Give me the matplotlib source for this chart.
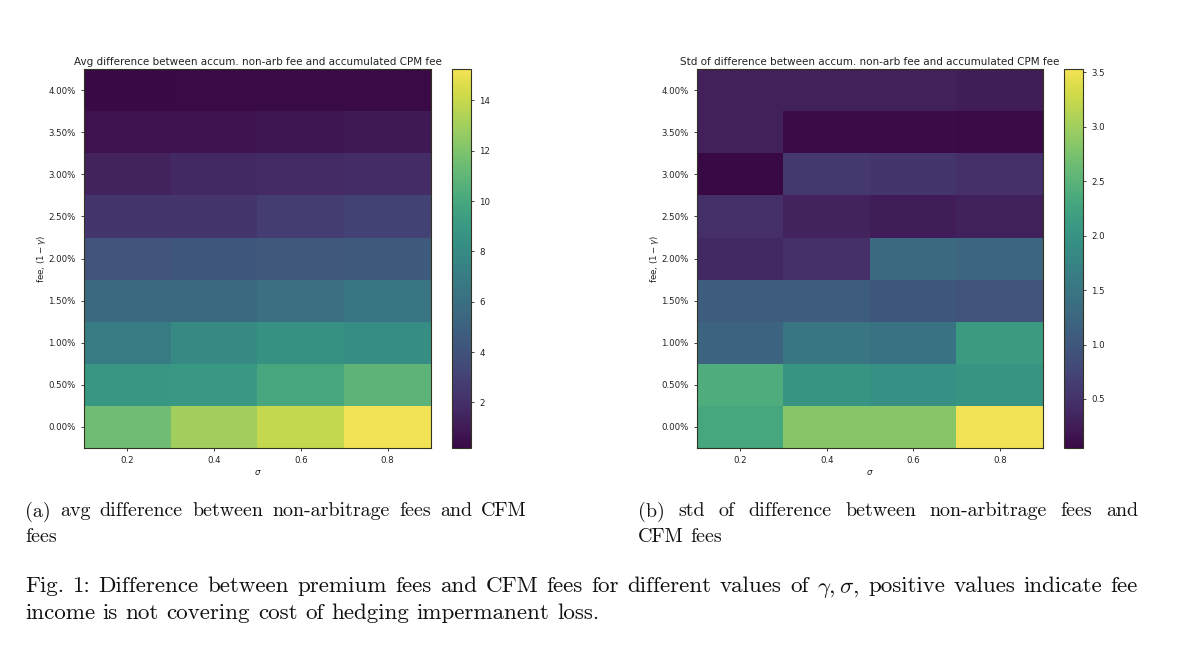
import numpy as np
import matplotlib
matplotlib.use("Agg")
import matplotlib.pyplot as plt
from matplotlib.colors import ListedColormap

sigmas = [0.2, 0.4, 0.6, 0.8]
fees = [0.0, 0.005, 0.01, 0.015, 0.02, 0.025, 0.03, 0.035, 0.04]

# rows = fees (0% .. 4%), columns = sigma
avg_diff = [
    [11.5, 13.0, 13.9, 15.25],
    [8.9, 9.0, 10.0, 10.9],
    [7.0, 8.0, 8.5, 8.2],
    [5.6, 5.6, 6.1, 6.4],
    [4.0, 4.3, 4.4, 4.6],
    [2.4, 2.4, 2.75, 3.05],
    [1.4, 1.7, 1.75, 1.85],
    [0.65, 0.7, 0.8, 0.95],
    [0.19, 0.25, 0.3, 0.3],
]
std_diff = [
    [2.3, 2.83, 2.83, 3.53],
    [2.4, 2.03, 1.96, 2.03],
    [1.2, 1.51, 1.44, 2.14],
    [1.09, 1.1, 1.0, 0.92],
    [0.4, 0.47, 1.3, 1.23],
    [0.47, 0.33, 0.26, 0.3],
    [0.05, 0.57, 0.54, 0.47],
    [0.29, 0.08, 0.08, 0.07],
    [0.29, 0.29, 0.29, 0.26],
]

titles = ["Avg difference between accum. non-arb fee and accumulated CPM fee",
          "Std of difference between accum. non-arb fee and accumulated CPM fee"]

# viridis, a bit washed out like the scanned figure
base = plt.get_cmap("viridis")(np.linspace(0, 1, 256))[:, :3]
grey = (base @ np.array([0.299, 0.587, 0.114]))[:, None]
cmap = ListedColormap(base + 0.28 * (grey - base))

W, H = 1200, 649
fig = plt.figure(figsize=(W / 100, H / 100), dpi=100)


def px(x0, y0, x1, y1):
    return [x0 / W, 1 - y1 / H, (x1 - x0) / W, (y1 - y0) / H]


boxes = [(px(84, 69, 431, 448), px(452, 69, 471, 448)),
         (px(697, 69, 1043, 448), px(1064, 69, 1083, 448))]

ds = 0.1
df = 0.0025
for data, title, (abox, cbox) in zip([avg_diff, std_diff], titles, boxes):
    ax = fig.add_axes(abox)
    cax = fig.add_axes(cbox)
    im = ax.imshow(np.array(data), cmap=cmap, origin="lower", aspect="auto",
                   extent=[sigmas[0] - ds, sigmas[-1] + ds, fees[0] - df, fees[-1] + df])
    ax.set_xticks(sigmas)
    ax.set_xticklabels([f"{s:.1f}" for s in sigmas])
    ax.set_yticks(fees)
    ax.set_yticklabels([f"{f:.2%}" for f in fees])
    ax.tick_params(labelsize=6.2, length=2.5, width=0.6, colors="#222222")
    ax.set_title(title, fontsize=7.5, pad=3, color="#222222")
    ax.set_xlabel(r"$\sigma$", fontsize=6.2, labelpad=2, color="#222222")
    ax.set_ylabel(r"fee, $(1-\gamma)$", fontsize=6.2, labelpad=0, color="#222222")
    cb = fig.colorbar(im, cax=cax)
    cb.ax.tick_params(labelsize=6.2, length=2.5, width=0.6, colors="#222222")
    for sp in list(ax.spines.values()) + list(cax.spines.values()):
        sp.set_linewidth(0.8)
        sp.set_color("#333322")

renderer = fig.canvas.get_renderer()


def put_line(text, x0, x1, y, size, justify=True):
    words = text.split(" ")
    objs = [fig.text(0, 1 - y / H, w, fontsize=size, family="cmr10",
                     math_fontfamily="cm", va="baseline", ha="left", color="#111111")
            for w in words]
    widths = [o.get_window_extent(renderer).width for o in objs]
    gap = size * 100 / 72 * 0.333
    if justify and len(words) > 1:
        gap = max(gap * 0.8, (x1 - x0 - sum(widths)) / (len(words) - 1))
    x = x0
    for o, w in zip(objs, widths):
        o.set_x(x / W)
        x += w + gap


sub_size = 14.4
cap_size = 16.6
put_line("(a) avg difference between non-arbitrage fees and CFM", 25, 527, 516.5, sub_size)
put_line("fees", 25, 527, 541.5, sub_size, justify=False)
put_line("(b) std of difference between non-arbitrage fees and", 638, 1138, 516.5, sub_size)
put_line("CFM fees", 638, 1138, 541.5, sub_size, justify=False)
put_line(r"Fig. 1: Difference between premium fees and CFM fees for different values of "
         r"$\gamma,\sigma$, positive values indicate fee", 25, 1138, 592.5, cap_size)
put_line("income is not covering cost of hedging impermanent loss.", 25, 1138, 619,
         cap_size, justify=False)

fig.savefig("out.png", dpi=100)
